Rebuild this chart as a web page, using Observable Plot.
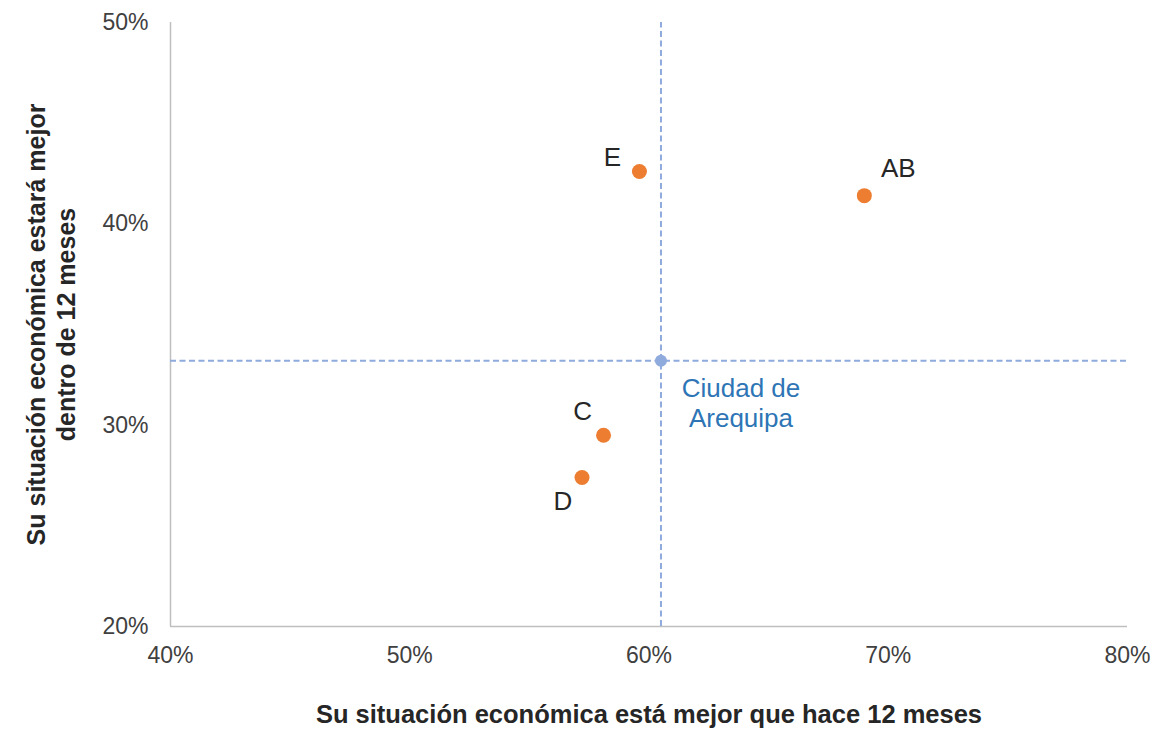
<!DOCTYPE html>
<html>
<head>
<meta charset="utf-8">
<script src="https://cdn.jsdelivr.net/npm/d3@7"></script>
<script src="https://cdn.jsdelivr.net/npm/@observablehq/plot@0.6"></script>
<style>
  html, body { margin: 0; padding: 0; background: #fff; }
  #chart svg { display: block; }
</style>
</head>
<body>
<div id="chart"></div>
<script>
const segments = ["E", "AB", "C", "D"];
const xValues = [0.596, 0.690, 0.581, 0.572];
const yValues = [0.426, 0.414, 0.295, 0.274];
const cityName = "Ciudad de\nArequipa";
const cityX = 0.605;
const cityY = 0.332;
const xTicks = [0.4, 0.5, 0.6, 0.7, 0.8];
const yTicks = [0.2, 0.3, 0.4, 0.5];
const xTitle = "Su situación económica está mejor que hace 12 meses";
const yTitle = "Su situación económica estará mejor\ndentro de 12 meses";

const points = segments.map((s, i) => ({name: s, x: xValues[i], y: yValues[i]}));
const city = [{name: cityName, x: cityX, y: cityY}];

const fmt = d => Math.round(d * 100) + "%";
const font = "Liberation Sans, Arial, sans-serif";
const labelOffsets = {E: [-27, -14], AB: [34, -27], C: [-21, -24], D: [-19, 24]};

const marks = [
  Plot.ruleX([0.4], {stroke: "#bfbfbf", strokeWidth: 1.5}),
  Plot.ruleY([0.2], {stroke: "#bfbfbf", strokeWidth: 1.5}),
  Plot.ruleX(city, {x: "x", y1: 0.2, y2: 0.5, stroke: "#8faadc", strokeWidth: 2, strokeDasharray: "6,3.5"}),
  Plot.ruleY(city, {y: "y", x1: 0.4, x2: 0.8, stroke: "#8faadc", strokeWidth: 2, strokeDasharray: "6,3.5"}),
  Plot.dot(city, {x: "x", y: "y", r: 6, fill: "#8faadc"}),
  Plot.text(city, {x: "x", y: "y", text: "name", dx: 80, dy: 42, fill: "#2e75b6", fontSize: 26, lineHeight: 1.15, textAnchor: "middle"}),
  Plot.dot(points, {x: "x", y: "y", r: 7.5, fill: "#ed7d31"}),
  ...segments.map(s => Plot.text(points.filter(p => p.name === s), {
    x: "x", y: "y", text: "name", dx: labelOffsets[s][0], dy: labelOffsets[s][1],
    fill: "#262626", fontSize: 26, textAnchor: "middle"
  })),
  Plot.text([yTitle], {frameAnchor: "left", dx: -120, rotate: -90, text: d => d, fontSize: 25, fontWeight: "bold", fill: "#262626", lineHeight: 1.2, textAnchor: "middle", lineAnchor: "middle"}),
  Plot.text([xTitle], {frameAnchor: "bottom", dy: 88, text: d => d, fontSize: 25.5, fontWeight: "bold", fill: "#262626", textAnchor: "middle", lineAnchor: "middle"})
];

const chart = Plot.plot({
  width: 1152,
  height: 729,
  marginLeft: 170,
  marginRight: 25,
  marginTop: 22,
  marginBottom: 103,
  style: {fontFamily: font, fontSize: "23px", color: "#404040", background: "#fff"},
  x: {domain: [0.4, 0.8], ticks: xTicks, tickFormat: fmt, tickSize: 0, tickPadding: 20, label: null},
  y: {domain: [0.2, 0.5], ticks: yTicks, tickFormat: fmt, tickSize: 0, tickPadding: 22, label: null},
  marks
});
document.getElementById("chart").appendChild(chart);
</script>
</body>
</html>
